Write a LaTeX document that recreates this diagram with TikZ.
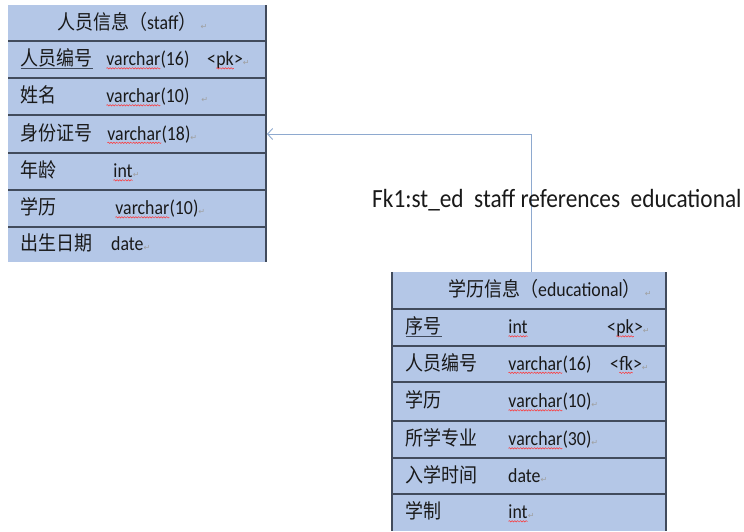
\documentclass[tikz,border=0pt]{standalone}
\usepackage{fontspec}
\setmainfont{Carlito}[FakeStretch=0.89]
\newfontfamily\cjk{Noto Sans CJK SC}[FakeStretch=0.9]
\newfontfamily\dejavu{DejaVu Sans}
\usetikzlibrary{arrows.meta,positioning,decorations.pathmorphing}
\definecolor{cellblue}{HTML}{B4C7E7}
\definecolor{rulegray}{HTML}{414B5C}
\definecolor{linkblue}{HTML}{8EA9CF}
\newcommand{\ret}{{\dejavu\fontsize{8}{8}\selectfont\textcolor{gray!75}{↵}}}
\newcommand{\sq}[1]{\tikz[baseline=(w.base)]{%
  \node[inner sep=0pt, outer sep=0pt, anchor=base] (w) {#1};
  \draw[red!80, line width=0.5pt, decorate,
    decoration={snake, amplitude=0.7pt, segment length=2.8pt}]
    ([yshift=-2.8pt]w.base west) -- ([yshift=-2.8pt]w.base east);}}
\newcommand{\key}[2]{\tikz[baseline=(w.base)]{%
  \node[inner sep=0pt, outer sep=0pt, anchor=base] (w) {\cjk #1\hspace{#2}};
  \draw[rulegray, line width=1.1pt]
    ([yshift=-3pt]w.base west) -- ([yshift=-3pt]w.base east);}}
\tikzset{
  cell/.style={anchor=base west, inner sep=0pt, text=black!90,
    font=\fontsize{20}{22}\selectfont},
  rowline/.style={draw=rulegray, line width=1.2pt},
  fklink/.style={draw=linkblue, line width=0.9pt,
    -{Straight Barb[length=5pt,width=11pt]}},
}

\begin{document}
\begin{tikzpicture}[x=1pt,y=-1pt]
\useasboundingbox (0,0) rectangle (744,531);

% staff
\fill[cellblue] (8,5) rectangle (266,262);
\foreach \y in {41,78,115,153,190,227}
  \draw[rowline] (8,\y) -- (266,\y);
\draw[rowline] (266,5) -- (266,262);

\node[cell] (stafftitle) at (57,29.5) {{\cjk 人员信息（}staff{\cjk ）}\ \ret};
\node[cell] (staffk1) at (20,65.5) {\key{人员编号}{6pt}};
\node[cell] (stafft1) at (106,65.5) {\sq{varchar}(16)};
\node[cell] (staffp1) at (207,65.5) {<\sq{pk}>\ret};
\node[cell] (staffk2) at (20,102.5) {\cjk 姓名};
\node[cell] (stafft2) at (106,102.5) {\sq{varchar}(10)\ \ \ \ret};
\node[cell] (staffk3) at (20,140) {\cjk 身份证号};
\node[cell] (stafft3) at (107,140) {\sq{varchar}(18)\ret};
\node[cell] (staffk4) at (20,177.5) {\cjk 年龄};
\node[cell] (stafft4) at (113,177.5) {\sq{int}\ret};
\node[cell] (staffk5) at (20,214.5) {\cjk 学历};
\node[cell] (stafft5) at (115,214.5) {\sq{varchar}(10)\ret};
\node[cell] (staffk6) at (20,250.5) {\cjk 出生日期};
\node[cell] (stafft6) at (111,250.5) {date\ret};

% educational
\fill[cellblue] (392,272) rectangle (666,531);
\foreach \y in {309,346,382,421,458,494}
  \draw[rowline] (392,\y) -- (666,\y);
\draw[rowline] (392,272) -- (392,531);
\draw[rowline] (666,272) -- (666,531);

\node[cell] (edutitle) at (448,296.5) {{\cjk 学历信息（}educational{\cjk ）}\ \ret};
\node[cell] (eduk1) at (405,333.5) {\key{序号}{7pt}};
\node[cell] (edut1) at (508,333.5) {\sq{int}};
\node[cell] (edup1) at (607,333.5) {<\sq{pk}>\ret};
\node[cell] (eduk2) at (405,370) {\cjk 人员编号};
\node[cell] (edut2) at (508,370) {\sq{varchar}(16)};
\node[cell] (edup2) at (610,370) {<\sq{fk}>\ret};
\node[cell] (eduk3) at (405,407.5) {\cjk 学历};
\node[cell] (edut3) at (508,407.5) {\sq{varchar}(10)\ret};
\node[cell] (eduk4) at (405,445.5) {\cjk 所学专业};
\node[cell] (edut4) at (508,445.5) {\sq{varchar}(30)\ret};
\node[cell] (eduk5) at (405,482) {\cjk 入学时间};
\node[cell] (edut5) at (508,482) {date\ret};
\node[cell] (eduk6) at (405,518.5) {\cjk 学制};
\node[cell] (edut6) at (508,518.5) {\sq{int}\ret};

% reference
\coordinate (edutop) at (531,272);
\coordinate (staffref) at (267,134);
\draw[fklink] (edutop) |- (staffref);
\node[anchor=base west, inner sep=0pt, text=black!90,
  font=\fontsize{26.2}{28}\selectfont] (fklabel) at (372,207.5)
  {Fk1:st\_ed\ \ staff references\ \ educational};
\end{tikzpicture}
\end{document}
